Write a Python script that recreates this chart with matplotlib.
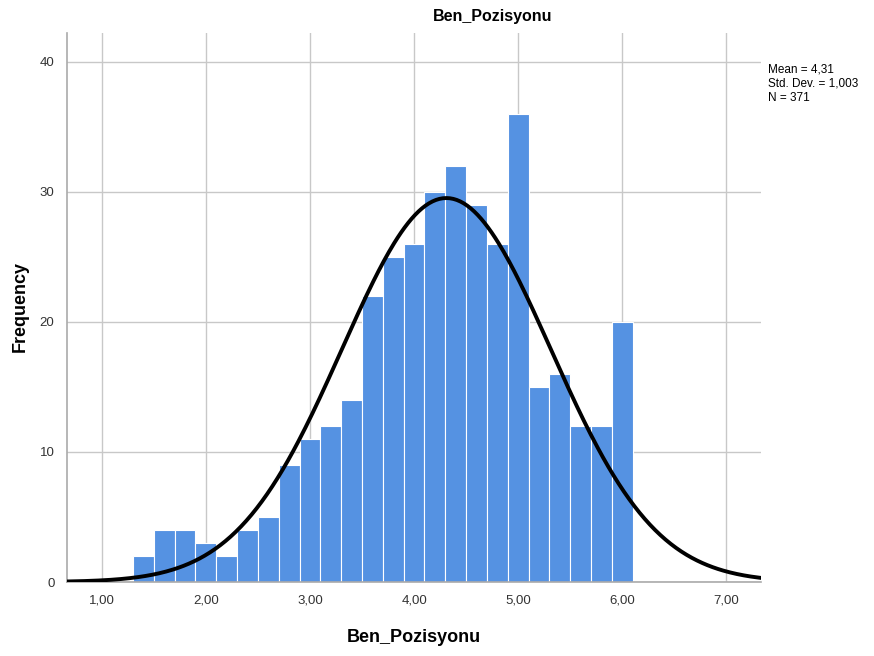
import numpy as np
import matplotlib
matplotlib.use("Agg")
import matplotlib.pyplot as plt
from matplotlib.ticker import FuncFormatter

plt.rcParams['font.family'] = ['Liberation Sans', 'DejaVu Sans']

# histogram bins (width 0.2) and counts
bin_start = 1.3
bin_width = 0.2
counts = [2, 4, 4, 3, 2, 4, 5, 9, 11, 12, 14, 22, 25, 26, 30, 32, 29, 26, 36, 15, 16, 12, 12, 20]
mean = 4.31
sd = 1.003
n = 371


def comma(v, digits):
    return f"{v:.{digits}f}".replace('.', ',')


edges = bin_start + bin_width * np.arange(len(counts) + 1)
lefts = edges[:-1]

fig = plt.figure(figsize=(8.74, 6.56), dpi=100)
ax = fig.add_axes([0.0767, 0.1128, 0.7944, 0.8369])

ax.bar(lefts, counts, width=bin_width, align='edge', color='#5592E2',
       edgecolor='white', linewidth=0.8, zorder=2)

# normal curve scaled to the histogram
xmin, xmax = 0.666, 7.336
x = np.linspace(xmin, xmax, 400)
y = n * bin_width / (sd * np.sqrt(2 * np.pi)) * np.exp(-0.5 * ((x - mean) / sd) ** 2)
ax.plot(x, y, color='black', linewidth=2.8, zorder=3)

ax.set_xlim(xmin, xmax)
ax.set_ylim(0, 42.2)
ax.set_xticks(np.arange(1, 8))
ax.set_yticks([0, 10, 20, 30, 40])
ax.xaxis.set_major_formatter(FuncFormatter(lambda v, p: comma(v, 2)))
ax.grid(True, color='#c8c8c8', linewidth=1.0, zorder=0)
ax.set_axisbelow(True)
ax.tick_params(length=0, labelsize=9.5, labelcolor='#333333', pad=9)

for s in ['top', 'right']:
    ax.spines[s].set_visible(False)
for s in ['left', 'bottom']:
    ax.spines[s].set_color('#aaaaaa')
    ax.spines[s].set_linewidth(1.2)

ax.set_xlabel("Ben_Pozisyonu", fontsize=13, fontweight='bold', labelpad=16)
fig.text(20 / 874, 1 - 307 / 656, "Frequency", fontsize=13, fontweight='bold',
         rotation=90, ha='center', va='center')

fig.text(493 / 874, 1 - 17 / 656, "Ben_Pozisyonu", fontsize=11.5, fontweight='bold',
         ha='center', va='center')
fig.text(768 / 874, 1 - 64 / 656,
         f"Mean = {comma(mean, 2)}\nStd. Dev. = {comma(sd, 3)}\nN = {n}",
         fontsize=8.5, ha='left', va='top', linespacing=1.2)

fig.savefig("out.png", dpi=100)
